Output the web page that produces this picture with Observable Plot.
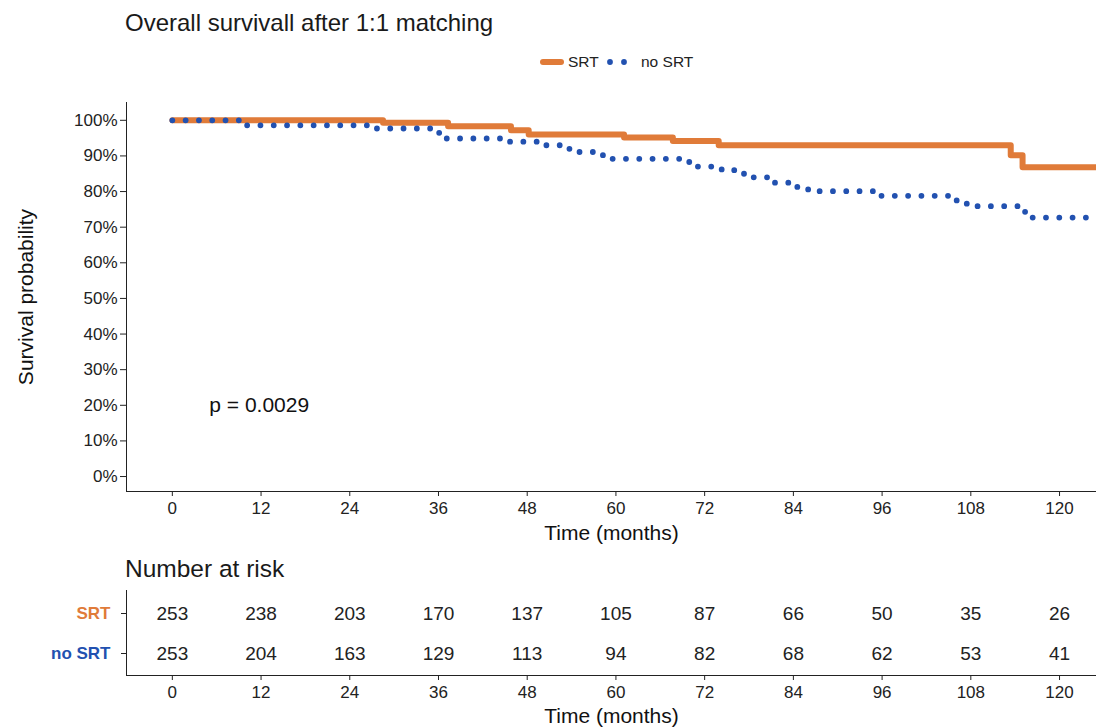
<!DOCTYPE html>
<html><head><meta charset="utf-8">
<script src="https://cdn.jsdelivr.net/npm/d3@7"></script>
<script src="https://cdn.jsdelivr.net/npm/@observablehq/plot@0.6"></script>
<style>
body{margin:0;background:#fff;font-family:"Liberation Sans",Arial,sans-serif;}
#root{position:relative;width:1096px;height:727px;overflow:hidden;background:#fff;}
.abs{position:absolute;white-space:nowrap;line-height:1;color:#1a1a1a;}
</style></head><body><div id="root">
<div class="abs" id="main" style="left:0;top:0"></div>
<div class="abs" id="risk" style="left:0;top:585px"></div>
<div class="abs" id="title" style="left:125px;top:11px;font-size:24px">Overall survivall after 1:1 matching</div>
<div class="abs" id="legend" style="left:530px;top:48px"></div>
<div class="abs" style="left:125px;top:557px;font-size:24.5px">Number at risk</div>
</div>
<script>
// ---- data ----
const groups = ["SRT", "no SRT"];
const groupColors = ["#E07B39", "#2251B0"];

// Kaplan-Meier step points (time in months, survival in %)
const srtTime = [0, 28.5, 37.3, 45.8, 48.2, 61.1, 67.7, 73.9, 113.4, 115, 130];
const srtSurv = [100, 99.3, 98.3, 97.2, 96, 95.2, 94.2, 93, 90.2, 86.8, 86.8];

const noSrtTime = [0, 9.3, 27, 35.5, 36.5, 45, 50.5, 53.5, 55, 57, 58.5, 69.5, 71, 74, 76, 77.5, 81.5, 84.5, 86, 95.5, 105.5, 107, 108.5, 114.5, 116, 130];
const noSrtSurv = [100, 98.6, 97.7, 96.5, 94.9, 94, 93, 92, 91.1, 90.2, 89.2, 88.3, 87, 86.2, 85, 84, 82.5, 81.3, 80.1, 78.8, 77.5, 76.6, 75.9, 74.3, 72.7, 72.7];

const xTicks = [0, 12, 24, 36, 48, 60, 72, 84, 96, 108, 120];
const yTicks = [0, 10, 20, 30, 40, 50, 60, 70, 80, 90, 100];

const riskTimes = [0, 12, 24, 36, 48, 60, 72, 84, 96, 108, 120];
const riskSRT = [253, 238, 203, 170, 137, 105, 87, 66, 50, 35, 26];
const riskNoSRT = [253, 204, 163, 129, 113, 94, 82, 68, 62, 53, 41];

const pvalText = "p = 0.0029";
const pvalX = 5;
const pvalY = 20;

// ---- build tables ----
const srtData = srtTime.map((t, i) => ({time: t, surv: srtSurv[i]}));
const noSrtData = noSrtTime.map((t, i) => ({time: t, surv: noSrtSurv[i]}));
const riskRows = [
  ...riskTimes.map((t, i) => ({time: t, group: groups[0], n: riskSRT[i]})),
  ...riskTimes.map((t, i) => ({time: t, group: groups[1], n: riskNoSRT[i]}))
];

const font = "Liberation Sans, Arial, sans-serif";
const xDomain = [-6.2, 125];

const main = Plot.plot({
  width: 1096, height: 545,
  marginTop: 102, marginBottom: 54, marginLeft: 126, marginRight: 0,
  style: {fontFamily: font, fontSize: "17px", color: "#222", background: "transparent"},
  x: {domain: xDomain, ticks: xTicks, label: null, line: true, tickSize: 5, tickPadding: 5},
  y: {domain: [-4.2, 105], ticks: yTicks, tickFormat: d => d + "%", label: null, line: true, tickSize: 6, tickPadding: 3},
  marks: [
    Plot.line(srtData, {x: "time", y: "surv", curve: "step-after", stroke: groupColors[0], strokeWidth: 6, clip: true}),
    Plot.line(noSrtData, {x: "time", y: "surv", curve: "step-after", stroke: groupColors[1], strokeWidth: 5.8,
      strokeDasharray: "0 13.3", strokeLinecap: "round", clip: true}),
    Plot.text([pvalText], {x: pvalX, y: pvalY, text: d => d, textAnchor: "start", fontSize: 21, fill: "#111"}),
    Plot.text(["Time (months)"], {text: d => d, frameAnchor: "bottom", lineAnchor: "middle", textAnchor: "middle", dy: 42, fontSize: 21, fill: "#111"}),
    Plot.text(["Survival probability"], {text: d => d, frameAnchor: "left", lineAnchor: "middle", textAnchor: "middle", dx: -100, rotate: -90, fontSize: 21, fill: "#111"})
  ]
});
document.getElementById("main").appendChild(main);

const risk = Plot.plot({
  width: 1096, height: 142,
  marginTop: 5, marginBottom: 52, marginLeft: 126, marginRight: 0,
  style: {fontFamily: font, fontSize: "17px", color: "#222", background: "transparent"},
  x: {domain: xDomain, ticks: xTicks, label: null, line: true, tickSize: 5, tickPadding: 5},
  y: {type: "point", domain: groups, padding: 0.56, label: null, line: true, tickSize: 5, tickFormat: () => ""},
  marks: [
    Plot.text(riskRows, {x: "time", y: "group", text: "n", fontSize: 19, fill: "#222"}),
    Plot.text([groups[0]], {y: d => d, text: d => d, frameAnchor: "left", lineAnchor: "middle", dx: -16, textAnchor: "end",
      fill: groupColors[0], fontWeight: "bold", fontSize: 17}),
    Plot.text([groups[1]], {y: d => d, text: d => d, frameAnchor: "left", lineAnchor: "middle", dx: -16, textAnchor: "end",
      fill: groupColors[1], fontWeight: "bold", fontSize: 17}),
    Plot.text(["Time (months)"], {text: d => d, frameAnchor: "bottom", lineAnchor: "middle", textAnchor: "middle", dy: 41, fontSize: 21, fill: "#111"})
  ]
});
document.getElementById("risk").appendChild(risk);

// ---- legend ----
const ns = "http://www.w3.org/2000/svg";
const lg = document.createElementNS(ns, "svg");
lg.setAttribute("width", 200); lg.setAttribute("height", 28);
lg.style.fontFamily = font;
function el(tag, attrs, text) {
  const e = document.createElementNS(ns, tag);
  for (const k in attrs) e.setAttribute(k, attrs[k]);
  if (text) e.textContent = text;
  lg.appendChild(e); return e;
}
el("line", {x1: 13, x2: 31, y1: 14, y2: 14, stroke: groupColors[0], "stroke-width": 6, "stroke-linecap": "round"});
el("text", {x: 38, y: 19, "font-size": 15.5, fill: "#222"}, groups[0]);
el("circle", {cx: 80, cy: 14, r: 2.9, fill: groupColors[1]});
el("circle", {cx: 94, cy: 14, r: 2.9, fill: groupColors[1]});
el("text", {x: 111, y: 19, "font-size": 15.5, fill: "#222"}, groups[1]);
document.getElementById("legend").appendChild(lg);
</script>
</body></html>
